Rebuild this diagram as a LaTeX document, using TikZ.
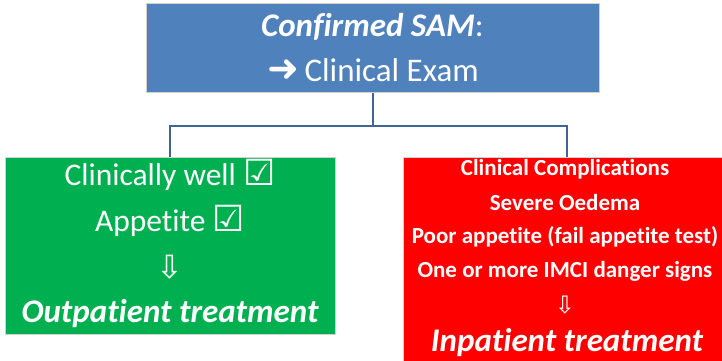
\documentclass[tikz,border=0pt]{standalone}
\usepackage{fontspec}
\setmainfont[Ligatures={NoCommon}]{Carlito}
\newfontfamily\symfont{DejaVu Sans}
\definecolor{topblue}{HTML}{4F81BD}
\definecolor{okgreen}{HTML}{00B050}
\definecolor{alertred}{HTML}{FF0000}
\definecolor{linkblue}{HTML}{3F6595}
\definecolor{edgegray}{HTML}{D0D0D0}
\tikzset{
  boxshape/.style={draw=edgegray, line width=1pt, inner sep=0pt, outer sep=0pt, rectangle},
  wtext/.style={text=white, inner sep=0pt, anchor=center},
  link/.style={draw=linkblue, line width=2pt}
}
\begin{document}
\begin{tikzpicture}[x=1pt,y=-1pt]
\useasboundingbox (0,0) rectangle (722,360);
\clip (0,0) rectangle (722,360);
\node[boxshape, fill=topblue, minimum width=453pt, minimum height=89pt] (top) at (372.5,48) {};
\node[boxshape, fill=okgreen, minimum width=330pt, minimum height=177pt] (left) at (170,245.5) {};
\node[boxshape, fill=alertred, minimum width=328pt, minimum height=210pt] (right) at (567,262) {};
\draw[link] (top.south) -- ++(0,33) coordinate (mid) -| (left.north);
\draw[link] (mid) -| (right.north);
% top texts
\node[wtext, font=\fontsize{33}{34}\selectfont] (t1) at (372.5,27) {\textbf{\textit{Confirmed SAM}}:};
\node[wtext, font=\fontsize{33}{34}\selectfont] (t2) at (373,70) {{\symfont\fontsize{38}{38}\selectfont ➜}\,Clinical Exam};
% left texts
\node[wtext, font=\fontsize{31.5}{32}\selectfont] (l1) at (170,175) {Clinically well {\symfont\fontsize{36}{36}\selectfont ☑}};
\node[wtext, font=\fontsize{31.5}{32}\selectfont] (l2) at (170,221) {Appetite {\symfont\fontsize{36}{36}\selectfont ☑}};
\node[wtext, font=\symfont\fontsize{32}{32}\selectfont] (l3) at (170,267) {⇩};
\node[wtext, font=\fontsize{33}{34}\selectfont\bfseries\itshape] (l4) at (170,314) {Outpatient treatment};
% right texts
\node[wtext, font=\fontsize{23}{24}\selectfont\bfseries] (r1) at (565,169) {Clinical Complications};
\node[wtext, font=\fontsize{23}{24}\selectfont\bfseries] (r2) at (565,203) {Severe Oedema};
\node[wtext, font=\fontsize{23}{24}\selectfont\bfseries] (r3) at (565,237) {Poor appetite (fail appetite test)};
\node[wtext, font=\fontsize{23}{24}\selectfont\bfseries] (r4) at (565,271) {One or more IMCI danger signs};
\node[wtext, font=\symfont\fontsize{24}{24}\selectfont] (r5) at (565,305) {⇩};
\node[wtext, font=\fontsize{33}{34}\selectfont\bfseries\itshape] (r6) at (567,343) {Inpatient treatment};
\end{tikzpicture}
\end{document}
